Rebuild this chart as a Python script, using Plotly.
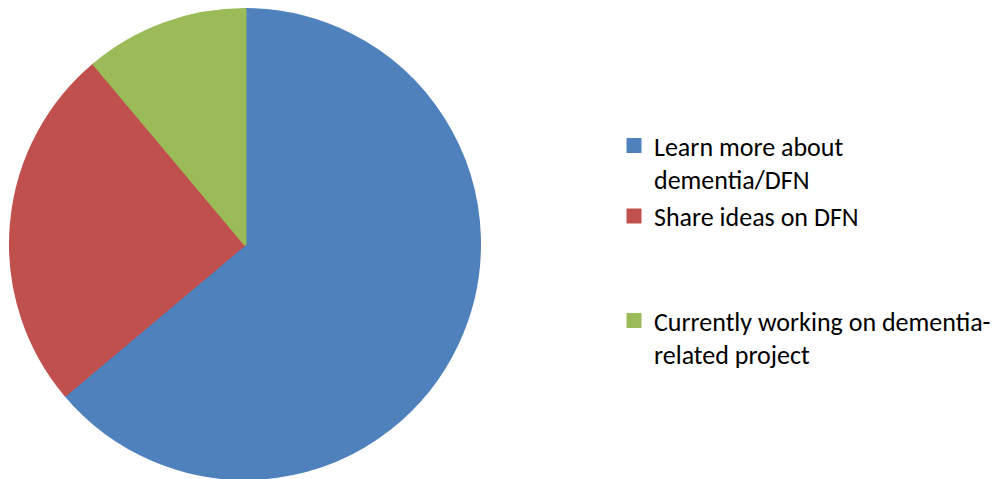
import plotly.graph_objects as go

# Data
categories = [
    "Learn more about dementia/DFN",
    "Share ideas on DFN",
    "Currently working on dementia-related project",
]
values = [23, 9, 4]
colors = ["#4F81BD", "#C0504D", "#9BBB59"]

# Legend labels wrapped as in the original (blank lines pad the spacing)
NB = "\u00a0"
legend_labels = [
    "Learn more about<br>dementia/DFN",
    "Share ideas on DFN<br>" + NB + "<br>" + NB,
    "Currently working on dementia-<br>related project",
]

W, H = 1002, 479
cx, cy, r = 237, 243, 234.5  # pie centre (px from left / bottom) and radius

fig = go.Figure(
    go.Pie(
        labels=legend_labels,
        values=values,
        customdata=categories,
        sort=False,
        direction="clockwise",
        rotation=0,
        marker=dict(colors=colors, line=dict(color=colors, width=3)),
        textinfo="none",
        hovertemplate="%{customdata}: %{value} (%{percent})<extra></extra>",
        domain=dict(x=[(cx - r) / W, (cx + r) / W], y=[(cy - r) / H, (cy + r) / H]),
    )
)

fig.update_layout(
    width=W,
    height=H,
    margin=dict(l=0, r=0, t=0, b=0),
    paper_bgcolor="white",
    plot_bgcolor="white",
    font=dict(family="Carlito, Lato, sans-serif", color="#000000"),
    legend=dict(
        x=606 / W,
        xanchor="left",
        y=1 - 114 / H,
        yanchor="top",
        valign="top",
        font=dict(size=26, family="Carlito, Lato, sans-serif", color="#000000"),
        bgcolor="rgba(0,0,0,0)",
        traceorder="normal",
    ),
    showlegend=True,
)

fig.write_html("out.html")
